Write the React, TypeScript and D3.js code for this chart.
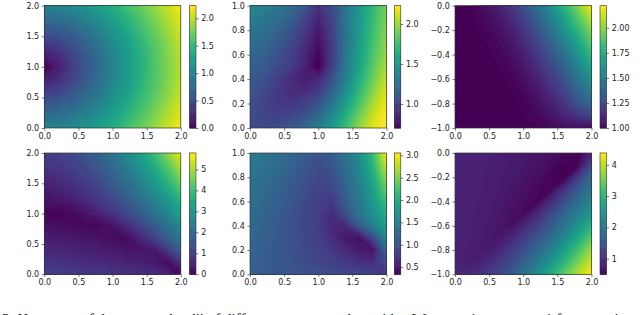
import { useRef, useEffect } from "react";
import * as d3 from "d3";

// heat values, rows top to bottom, 11 columns left to right
const grid1 = [
  [1.0, 1.02, 1.07, 1.16, 1.27, 1.41, 1.56, 1.72, 1.88, 2.05, 2.23],
  [0.8, 0.83, 0.9, 1.0, 1.13, 1.28, 1.44, 1.61, 1.79, 1.97, 2.15],
  [0.6, 0.64, 0.72, 0.85, 1.0, 1.17, 1.34, 1.53, 1.71, 1.9, 2.09],
  [0.4, 0.46, 0.58, 0.72, 0.89, 1.08, 1.26, 1.46, 1.65, 1.84, 2.04],
  [0.2, 0.29, 0.46, 0.63, 0.82, 1.01, 1.21, 1.41, 1.61, 1.81, 2.01],
  [0.0, 0.2, 0.4, 0.6, 0.8, 1.0, 1.2, 1.4, 1.6, 1.8, 2.0],
  [0.2, 0.29, 0.46, 0.63, 0.82, 1.01, 1.21, 1.41, 1.61, 1.81, 2.01],
  [0.4, 0.46, 0.58, 0.72, 0.89, 1.08, 1.26, 1.46, 1.65, 1.84, 2.04],
  [0.6, 0.64, 0.72, 0.85, 1.0, 1.17, 1.34, 1.53, 1.71, 1.9, 2.09],
  [0.8, 0.83, 0.9, 1.0, 1.13, 1.28, 1.44, 1.61, 1.79, 1.97, 2.15],
  [1.0, 1.02, 1.07, 1.16, 1.27, 1.41, 1.56, 1.72, 1.88, 2.05, 2.23],
];
const grid2 = [
  [1.42, 1.38, 1.32, 1.24, 1.12, 0.92, 1.05, 1.3, 1.52, 1.72, 1.92],
  [1.36, 1.32, 1.26, 1.18, 1.03, 0.86, 1.02, 1.3, 1.53, 1.74, 1.94],
  [1.3, 1.26, 1.2, 1.1, 0.97, 0.81, 1.0, 1.29, 1.54, 1.76, 1.96],
  [1.26, 1.22, 1.15, 1.05, 0.92, 0.77, 0.98, 1.29, 1.55, 1.78, 1.98],
  [1.22, 1.18, 1.1, 1.0, 0.88, 0.73, 0.97, 1.3, 1.57, 1.81, 2.01],
  [1.18, 1.13, 1.06, 0.98, 0.86, 0.7, 1.0, 1.33, 1.6, 1.84, 2.05],
  [1.14, 1.09, 1.0, 0.9, 0.83, 0.88, 1.08, 1.38, 1.65, 1.89, 2.1],
  [1.11, 1.05, 0.96, 0.9, 0.9, 0.98, 1.18, 1.46, 1.72, 1.96, 2.16],
  [1.08, 1.03, 0.96, 0.95, 1.0, 1.1, 1.3, 1.56, 1.8, 2.03, 2.21],
  [1.06, 1.02, 1.0, 1.03, 1.1, 1.22, 1.42, 1.66, 1.9, 2.11, 2.24],
  [1.05, 1.05, 1.07, 1.13, 1.22, 1.35, 1.54, 1.76, 1.98, 2.17, 2.27],
];
const grid3 = [
  [1.0, 1.01, 1.05, 1.1, 1.18, 1.3, 1.45, 1.62, 1.8, 2.0, 2.22],
  [1.0, 1.0, 1.03, 1.07, 1.14, 1.25, 1.38, 1.54, 1.71, 1.9, 2.1],
  [1.0, 1.0, 1.02, 1.05, 1.1, 1.19, 1.31, 1.46, 1.63, 1.81, 2.0],
  [1.0, 1.0, 1.01, 1.03, 1.07, 1.15, 1.25, 1.38, 1.54, 1.72, 1.91],
  [1.0, 1.0, 1.0, 1.02, 1.05, 1.11, 1.2, 1.32, 1.46, 1.63, 1.82],
  [1.0, 1.0, 1.0, 1.01, 1.03, 1.08, 1.16, 1.26, 1.39, 1.55, 1.73],
  [1.0, 1.0, 1.0, 1.0, 1.02, 1.05, 1.12, 1.21, 1.32, 1.47, 1.63],
  [1.0, 1.0, 1.0, 1.0, 1.01, 1.03, 1.08, 1.16, 1.26, 1.39, 1.53],
  [1.0, 1.0, 1.0, 1.0, 1.0, 1.02, 1.05, 1.11, 1.2, 1.31, 1.42],
  [1.0, 1.0, 1.0, 1.0, 1.0, 1.01, 1.03, 1.07, 1.13, 1.2, 1.27],
  [1.0, 1.0, 1.0, 1.0, 1.0, 1.0, 1.01, 1.03, 1.05, 1.04, 1.02],
];
const grid4 = [
  [1.05, 1.15, 1.3, 1.55, 1.85, 2.25, 2.75, 3.3, 3.95, 4.75, 5.75],
  [0.9, 0.98, 1.12, 1.35, 1.65, 2.02, 2.48, 3.0, 3.6, 4.3, 5.2],
  [0.7, 0.78, 0.92, 1.14, 1.42, 1.78, 2.2, 2.68, 3.25, 3.9, 4.7],
  [0.5, 0.58, 0.72, 0.93, 1.2, 1.53, 1.92, 2.38, 2.9, 3.5, 4.2],
  [0.3, 0.34, 0.46, 0.68, 0.95, 1.25, 1.62, 2.05, 2.52, 3.05, 3.7],
  [0.08, 0.1, 0.15, 0.3, 0.58, 0.9, 1.26, 1.68, 2.15, 2.68, 3.3],
  [0.28, 0.24, 0.2, 0.17, 0.14, 0.3, 0.72, 1.15, 1.62, 2.15, 2.8],
  [0.48, 0.44, 0.4, 0.35, 0.28, 0.2, 0.16, 0.65, 1.15, 1.72, 2.35],
  [0.68, 0.64, 0.6, 0.55, 0.49, 0.42, 0.36, 0.32, 0.38, 1.0, 1.8],
  [0.9, 0.85, 0.8, 0.75, 0.7, 0.64, 0.58, 0.52, 0.45, 0.2, 0.9],
  [1.12, 1.08, 1.04, 1.0, 0.96, 0.92, 0.87, 0.82, 0.75, 0.6, 0.05],
];
const grid5 = [
  [1.5, 1.42, 1.34, 1.25, 1.15, 1.03, 1.15, 1.38, 1.68, 2.2, 3.05],
  [1.45, 1.37, 1.29, 1.2, 1.1, 0.97, 1.08, 1.32, 1.62, 2.1, 2.85],
  [1.4, 1.32, 1.24, 1.15, 1.05, 0.92, 1.0, 1.26, 1.56, 2.0, 2.62],
  [1.36, 1.28, 1.2, 1.11, 1.0, 0.88, 0.93, 1.2, 1.5, 1.9, 2.42],
  [1.33, 1.25, 1.17, 1.07, 0.96, 0.85, 0.82, 1.12, 1.45, 1.8, 2.24],
  [1.3, 1.22, 1.14, 1.04, 0.94, 0.84, 0.7, 1.02, 1.38, 1.7, 2.05],
  [1.27, 1.2, 1.12, 1.03, 0.94, 0.84, 0.64, 0.66, 1.15, 1.52, 1.88],
  [1.25, 1.18, 1.1, 1.02, 0.94, 0.85, 0.72, 0.52, 0.46, 0.95, 1.62],
  [1.23, 1.16, 1.09, 1.02, 0.96, 0.88, 0.79, 0.68, 0.56, 0.5, 1.3],
  [1.21, 1.15, 1.09, 1.04, 0.99, 0.93, 0.87, 0.8, 0.72, 0.7, 1.0],
  [1.2, 1.15, 1.11, 1.07, 1.04, 1.01, 0.98, 0.95, 0.92, 0.88, 0.82],
];
const grid6 = [
  [0.88, 0.87, 0.86, 0.84, 0.81, 0.78, 0.74, 0.7, 0.62, 0.55, 0.95],
  [0.88, 0.87, 0.86, 0.83, 0.8, 0.76, 0.7, 0.63, 0.54, 0.55, 1.45],
  [0.88, 0.87, 0.85, 0.82, 0.78, 0.73, 0.66, 0.57, 0.5, 1.2, 1.85],
  [0.88, 0.87, 0.85, 0.81, 0.76, 0.69, 0.6, 0.55, 1.1, 1.6, 2.1],
  [0.88, 0.87, 0.84, 0.8, 0.73, 0.65, 0.58, 1.0, 1.45, 1.85, 2.35],
  [0.88, 0.87, 0.83, 0.78, 0.7, 0.6, 0.95, 1.35, 1.8, 2.2, 2.6],
  [0.88, 0.86, 0.82, 0.76, 0.66, 0.95, 1.25, 1.6, 2.05, 2.5, 3.0],
  [0.88, 0.86, 0.8, 0.72, 0.92, 1.2, 1.5, 1.9, 2.35, 2.85, 3.45],
  [0.88, 0.84, 0.78, 0.9, 1.15, 1.45, 1.8, 2.2, 2.7, 3.25, 3.85],
  [0.88, 0.82, 0.9, 1.1, 1.35, 1.7, 2.1, 2.55, 3.05, 3.6, 4.15],
  [0.95, 1.0, 1.1, 1.3, 1.55, 1.95, 2.4, 2.9, 3.45, 3.95, 4.4],
];

const xTicks = [0, 0.5, 1, 1.5, 2];
const yTicksFull = [0, 0.5, 1, 1.5, 2];
const yTicksUnit = [0, 0.2, 0.4, 0.6, 0.8, 1];
const yTicksNeg = [-1, -0.8, -0.6, -0.4, -0.2, 0];

const panels = [
  { grid: grid1, yDomain: [0, 2], yTicks: yTicksFull, cDomain: [0, 2.23], cTicks: [0, 0.5, 1, 1.5, 2], cFmt: ".1f", left: 44.3, cbar: 189.5, top: 5.7, bottom: 128 },
  { grid: grid2, yDomain: [0, 1], yTicks: yTicksUnit, cDomain: [0.7, 2.23], cTicks: [1, 1.5, 2], cFmt: ".1f", left: 250, cbar: 394.3, top: 5.7, bottom: 128 },
  { grid: grid3, yDomain: [-1, 0], yTicks: yTicksNeg, cDomain: [1, 2.22], cTicks: [1, 1.25, 1.5, 1.75, 2], cFmt: ".2f", left: 455, cbar: 600, top: 5.7, bottom: 128 },
  { grid: grid4, yDomain: [0, 2], yTicks: yTicksFull, cDomain: [0, 5.78], cTicks: [0, 1, 2, 3, 4, 5], cFmt: "d", left: 44.3, cbar: 189.5, top: 153, bottom: 274.3 },
  { grid: grid5, yDomain: [0, 1], yTicks: yTicksUnit, cDomain: [0.34, 3.05], cTicks: [0.5, 1, 1.5, 2, 2.5, 3], cFmt: ".1f", left: 250, cbar: 394.3, top: 153, bottom: 274.3 },
  { grid: grid6, yDomain: [-1, 0], yTicks: yTicksNeg, cDomain: [0.5, 4.38], cTicks: [1, 2, 3, 4], cFmt: "d", left: 455, cbar: 600, top: 153, bottom: 274.3 },
];

const captionWords = [
  { text: "3: Heatmaps of the expected radii of different", x: 2 },
  { text: "tubes with a Wasserstein", x: 336 },
  { text: "1 for a varying", x: 545 },
];

const panelWidth = 136.5;
const cbarWidth = 6.5;
const fontFamily = "'DejaVu Sans'";

export default function App() {
  const ref = useRef<SVGSVGElement>(null);

  useEffect(() => {
    const svg = d3.select(ref.current);
    svg.selectAll("*").remove();

    panels.forEach((p, idx) => {
      const x = d3.scaleLinear().domain([0, 2]).range([p.left, p.left + panelWidth]);
      const y = d3.scaleLinear().domain(p.yDomain).range([p.bottom, p.top]);
      const cy = d3.scaleLinear().domain(p.cDomain).range([p.bottom, p.top]);
      const color = d3.scaleSequential(d3.interpolateViridis).domain(p.cDomain);

      const rows = p.grid.length;
      const cols = p.grid[0].length;

      // repeat the edge cells once so contours run past the axes
      const padded: number[] = [];
      for (let r = -1; r <= rows; r++) {
        for (let c = -1; c <= cols; c++) {
          padded.push(p.grid[Math.max(0, Math.min(rows - 1, r))][Math.max(0, Math.min(cols - 1, c))]);
        }
      }

      const colX = d3.scaleLinear().domain([1.5, cols + 0.5]).range(x.domain());
      const rowY = d3.scaleLinear().domain([1.5, rows + 0.5]).range([p.yDomain[1], p.yDomain[0]]);
      const path = d3.geoPath(
        d3.geoTransform({
          point(px, py) {
            this.stream.point(x(colX(px)), y(rowY(py)));
          },
        })
      );

      const levels = d3.range(0, 90).map((i) => p.cDomain[0] + ((p.cDomain[1] - p.cDomain[0]) * i) / 89);
      const contours = d3.contours().size([cols + 2, rows + 2]).thresholds(levels)(padded);

      svg
        .append("clipPath")
        .attr("id", `clip${idx}`)
        .append("rect")
        .attr("x", p.left)
        .attr("y", p.top)
        .attr("width", panelWidth)
        .attr("height", p.bottom - p.top);

      const heat = svg.append("g").attr("clip-path", `url(#clip${idx})`);
      heat
        .append("rect")
        .attr("x", p.left)
        .attr("y", p.top)
        .attr("width", panelWidth)
        .attr("height", p.bottom - p.top)
        .attr("fill", color(p.cDomain[0]));
      heat
        .selectAll("path")
        .data(contours)
        .enter()
        .append("path")
        .attr("d", (d) => path(d))
        .attr("fill", (d) => color(d.value));

      // colorbar
      const steps = d3.range(0, 256).map((i) => p.cDomain[0] + ((p.cDomain[1] - p.cDomain[0]) * i) / 255);
      const stepH = (p.bottom - p.top) / 255;
      svg
        .append("g")
        .selectAll("rect")
        .data(steps)
        .enter()
        .append("rect")
        .attr("x", p.cbar)
        .attr("y", (d) => cy(d) - stepH)
        .attr("width", cbarWidth)
        .attr("height", stepH + 0.5)
        .attr("fill", (d) => color(d));

      svg
        .append("rect")
        .attr("x", p.cbar)
        .attr("y", p.top)
        .attr("width", cbarWidth)
        .attr("height", p.bottom - p.top)
        .attr("fill", "none")
        .attr("stroke", "#333")
        .attr("stroke-width", 0.6);

      // frame and axes
      svg
        .append("rect")
        .attr("x", p.left)
        .attr("y", p.top)
        .attr("width", panelWidth)
        .attr("height", p.bottom - p.top)
        .attr("fill", "none")
        .attr("stroke", "#333")
        .attr("stroke-width", 0.7);

      const axes = [
        {
          axis: d3.axisBottom(x).tickValues(xTicks).tickFormat(d3.format(".1f") as any),
          at: `translate(0,${p.bottom})`,
        },
        {
          axis: d3.axisLeft(y).tickValues(p.yTicks).tickFormat(d3.format(".1f") as any),
          at: `translate(${p.left},0)`,
        },
        {
          axis: d3.axisRight(cy).tickValues(p.cTicks).tickFormat(d3.format(p.cFmt) as any),
          at: `translate(${p.cbar + cbarWidth},0)`,
        },
      ];
      axes.forEach(({ axis, at }) => {
        const g = svg
          .append("g")
          .attr("transform", at)
          .call(axis.tickSize(2.6).tickPadding(2.6) as any);
        g.select(".domain").remove();
        g.selectAll("line").attr("stroke", "#222").attr("stroke-width", 0.6);
        g.selectAll("text").attr("fill", "#222").attr("font-size", 8).attr("font-family", fontFamily);
      });
    });

    // caption line, cut off by the picture's bottom edge
    svg
      .append("g")
      .selectAll("text")
      .data(captionWords)
      .enter()
      .append("text")
      .attr("x", (d) => d.x)
      .attr("y", 324)
      .attr("font-family", "'Liberation Serif'")
      .attr("font-size", 15)
      .attr("fill", "#111")
      .text((d) => d.text);
  }, []);

  return (
    <svg
      ref={ref}
      width={640}
      height={315}
      style={{ position: "absolute", left: 0, top: 0, background: "#fff" }}
    />
  );
}
